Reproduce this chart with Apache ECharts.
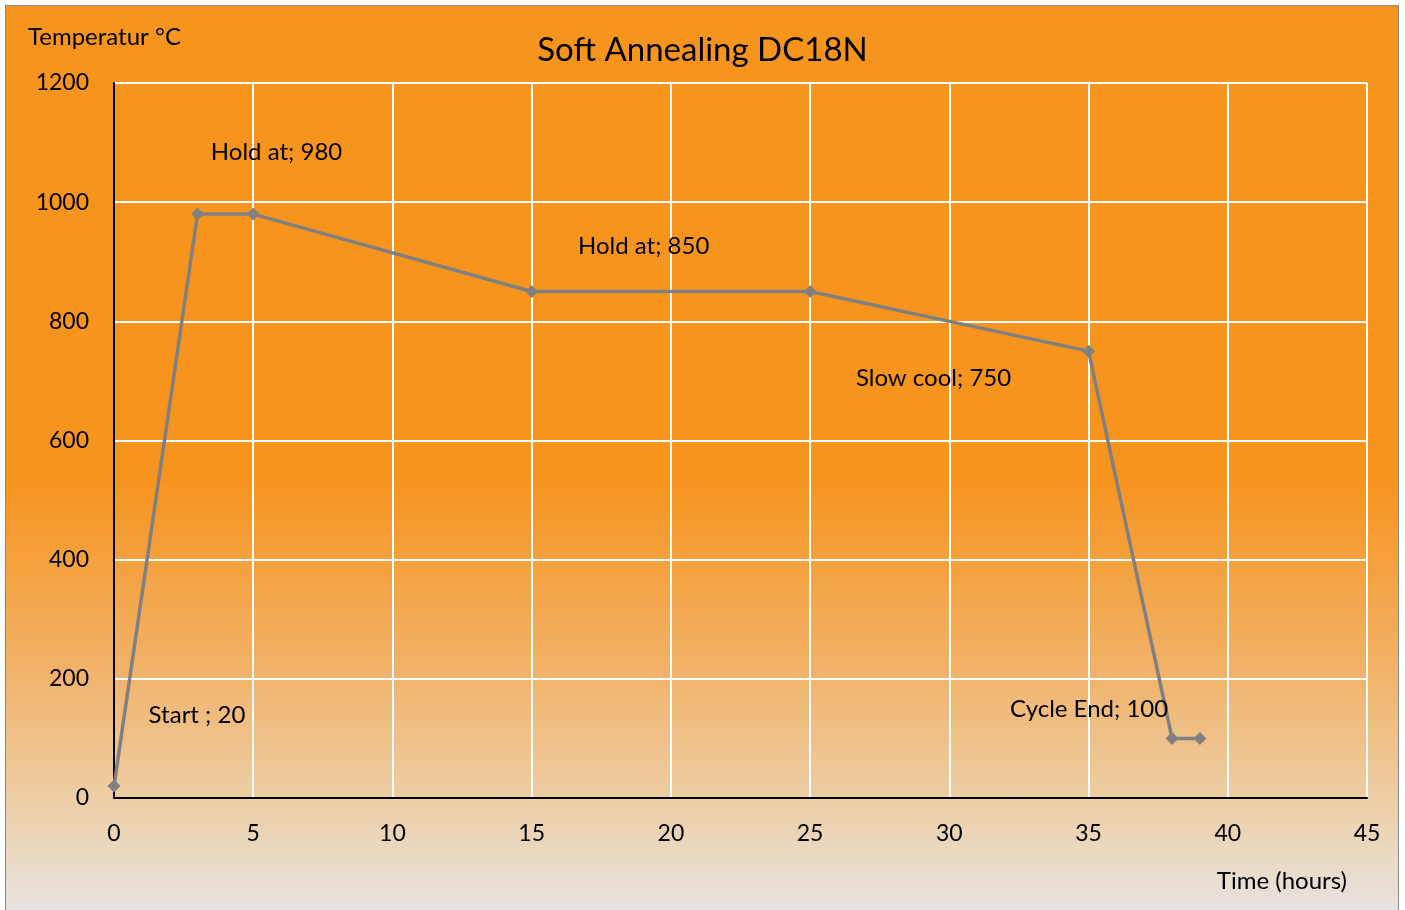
<!DOCTYPE html>
<html><head><meta charset="utf-8">
<script src="https://cdn.jsdelivr.net/npm/echarts@6/dist/echarts.min.js"></script>
<style>
html,body{margin:0;padding:0;background:#fff;}
#frame{position:absolute;left:5px;top:5px;width:1394px;height:910px;border:1px solid #8a8a8a;box-sizing:border-box;
background:linear-gradient(to bottom,#F7941E 0%,#F7941E 52%,#F1B064 72%,#EDCFA8 88%,#E6E4E2 100%);}
#chart{position:absolute;left:0;top:0;width:1405px;height:910px;}
</style></head>
<body><div id="frame"></div><div id="chart"></div>
<script>
const timeHours = [0, 3, 5, 15, 25, 35, 38, 39];
const temperatures = [20, 980, 980, 850, 850, 750, 100, 100];
const pointLabels = ['Start ; 20', 'Hold at; 980', '', 'Hold at; 850', '', 'Slow cool; 750', 'Cycle End; 100', ''];
const xTicks = [0, 5, 10, 15, 20, 25, 30, 35, 40, 45];
const yTicks = [0, 200, 400, 600, 800, 1000, 1200];

const labelOffsets = [[83, -71], [79, -62], [0, 0], [112, -45], [0, 0], [-155, 27], [-83, -29], [0, 0]];
const FONT = 'Lato, "Open Sans", sans-serif';

const chart = echarts.init(document.getElementById('chart'), null, {renderer: 'canvas'});
const seriesData = timeHours.map((t, i) => {
  const d = {value: [t, temperatures[i]]};
  if (pointLabels[i]) {
    d.label = {show: true, formatter: pointLabels[i], position: 'inside', offset: labelOffsets[i],
      color: '#000', fontSize: 24, fontFamily: FONT};
  }
  return d;
});
chart.setOption({
  backgroundColor: 'transparent',
  title: {text: 'Soft Annealing DC18N', left: 'center', top: 29,
    textStyle: {fontSize: 33, fontWeight: 'normal', color: '#000', fontFamily: FONT}},
  grid: {left: 114, right: 38, top: 83, bottom: 112, containLabel: false},
  xAxis: {type: 'value', min: xTicks[0], max: xTicks[xTicks.length - 1], interval: 5,
    name: 'Time (hours)', nameLocation: 'end', nameGap: 0,
    nameTextStyle: {fontSize: 24, color: '#000', fontFamily: FONT, align: 'right', verticalAlign: 'top', padding: [71, 20, 0, 0]},
    axisLine: {show: true, onZero: false, lineStyle: {color: '#000', width: 2}},
    axisTick: {show: false},
    axisLabel: {color: '#000', fontSize: 23, fontFamily: FONT, margin: 24},
    splitLine: {show: true, lineStyle: {color: '#fff', width: 2}}},
  yAxis: {type: 'value', min: yTicks[0], max: yTicks[yTicks.length - 1], interval: 200,
    name: 'Temperatur °C', nameLocation: 'end', nameGap: 0,
    nameTextStyle: {fontSize: 24, color: '#000', fontFamily: FONT, align: 'left', verticalAlign: 'bottom', padding: [0, 0, 34, -86]},
    axisLine: {show: true, lineStyle: {color: '#000', width: 2}},
    axisTick: {show: false},
    axisLabel: {color: '#000', fontSize: 23, fontFamily: FONT, margin: 25, formatter: v => String(v)},
    splitLine: {show: true, lineStyle: {color: '#fff', width: 2}}},
  series: [{type: 'line', data: seriesData, symbol: 'diamond', symbolSize: 13,
    lineStyle: {color: '#808080', width: 3.5}, itemStyle: {color: '#808080'},
    animation: false, z: 3}]
});
</script></body></html>
